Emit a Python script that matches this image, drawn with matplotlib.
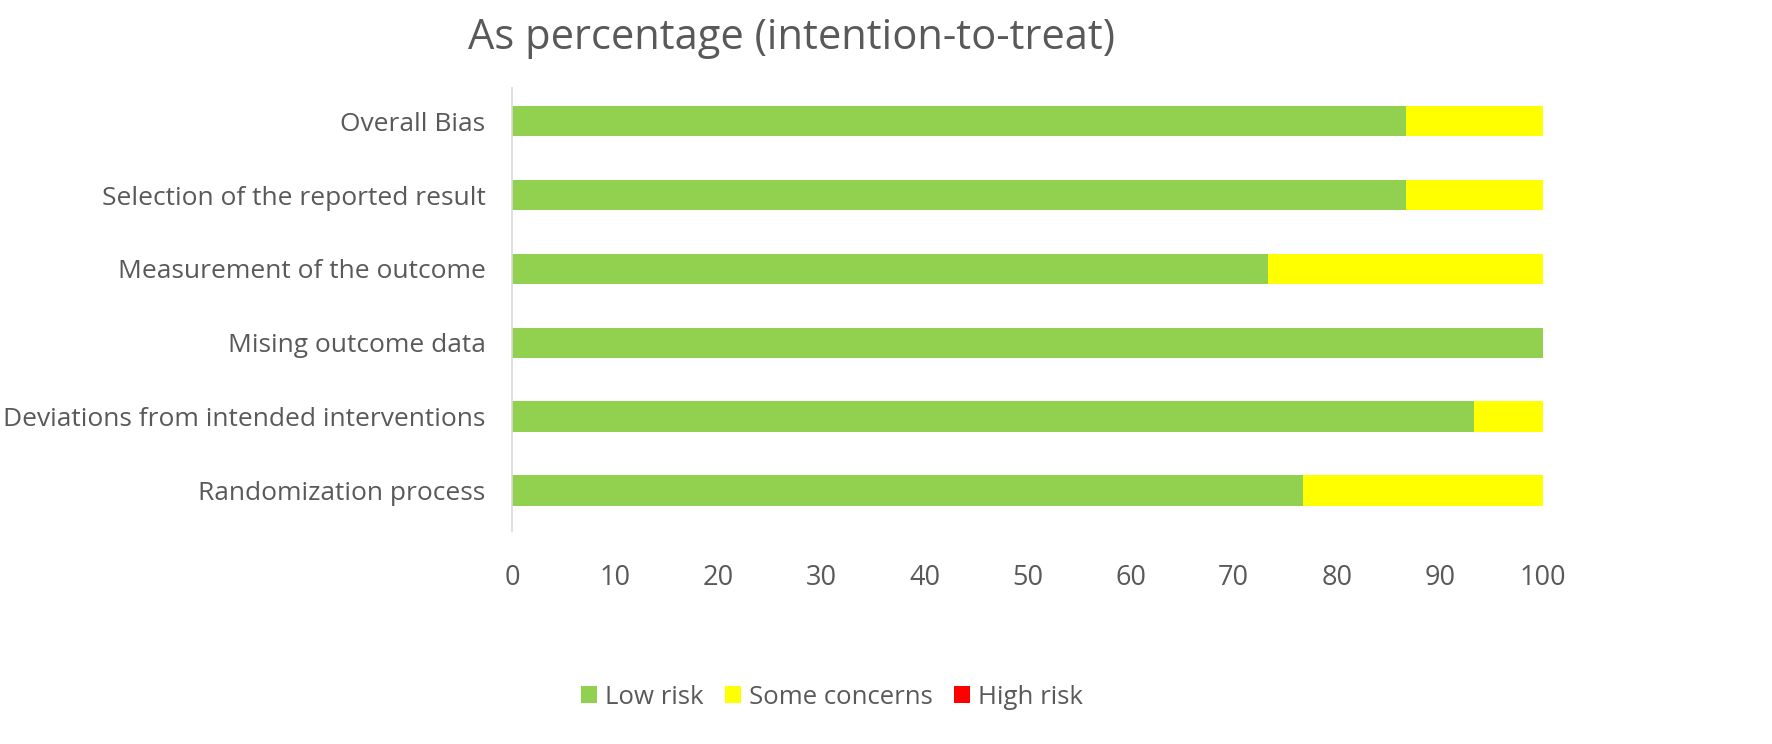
import matplotlib.pyplot as plt
import numpy as np
from matplotlib.patches import Patch

# domains, bottom to top as drawn
domains = ['Randomization process',
           'Deviations from intended interventions',
           'Mising outcome data',
           'Measurement of the outcome',
           'Selection of the reported result',
           'Overall Bias']
low_risk = [76.7, 93.3, 100.0, 73.3, 86.7, 86.7]
some_concerns = [23.3, 6.7, 0.0, 26.7, 13.3, 13.3]
high_risk = [0.0, 0.0, 0.0, 0.0, 0.0, 0.0]
x_ticks = [0, 10, 20, 30, 40, 50, 60, 70, 80, 90, 100]

colors = {'low': '#92D050', 'some': '#FFFF00', 'high': '#FF0000'}
text_col = '#595959'

plt.rcParams['font.family'] = ['Open Sans', 'DejaVu Sans']

fig = plt.figure(figsize=(17.72, 7.44), dpi=100)
ax = fig.add_axes([512 / 1772, 1 - 531 / 744, (1543 - 512) / 1772, (531 - 88) / 744])

y = np.arange(len(domains))
low = np.array(low_risk)
some = np.array(some_concerns)
high = np.array(high_risk)
h = 0.41
ax.barh(y, low, height=h, color=colors['low'], label='Low risk')
ax.barh(y, some, left=low, height=h, color=colors['some'], label='Some concerns')
ax.barh(y, high, left=low + some, height=h, color=colors['high'], label='High risk')

ax.set_xlim(0, 100)
ax.set_ylim(-0.55, 5.45)
ax.set_xticks(x_ticks)
ax.set_xticklabels([str(t) for t in x_ticks])
ax.set_yticks(y)
ax.set_yticklabels(domains)
ax.tick_params(axis='both', length=0, colors=text_col)
ax.tick_params(axis='x', pad=24, labelsize=19.5)
ax.tick_params(axis='y', pad=19, labelsize=19)
for s in ['top', 'right', 'bottom']:
    ax.spines[s].set_visible(False)
ax.spines['left'].set_color('#D9D9D9')
ax.spines['left'].set_linewidth(1.2)

fig.text(791 / 1772, 1 - 38 / 744, 'As percentage (intention-to-treat)',
         ha='center', va='center', fontsize=30, color=text_col)

handles = [Patch(facecolor=colors['low'], label='Low risk'),
           Patch(facecolor=colors['some'], label='Some concerns'),
           Patch(facecolor=colors['high'], label='High risk')]
leg = fig.legend(handles=handles, loc='center', bbox_to_anchor=(832 / 1772, 1 - 697 / 744),
                 ncol=3, frameon=False, fontsize=18.5, handlelength=0.62, handleheight=0.62,
                 handletextpad=0.3, columnspacing=0.85)
for t in leg.get_texts():
    t.set_color(text_col)

fig.savefig('out.png', dpi=100, facecolor='white')
